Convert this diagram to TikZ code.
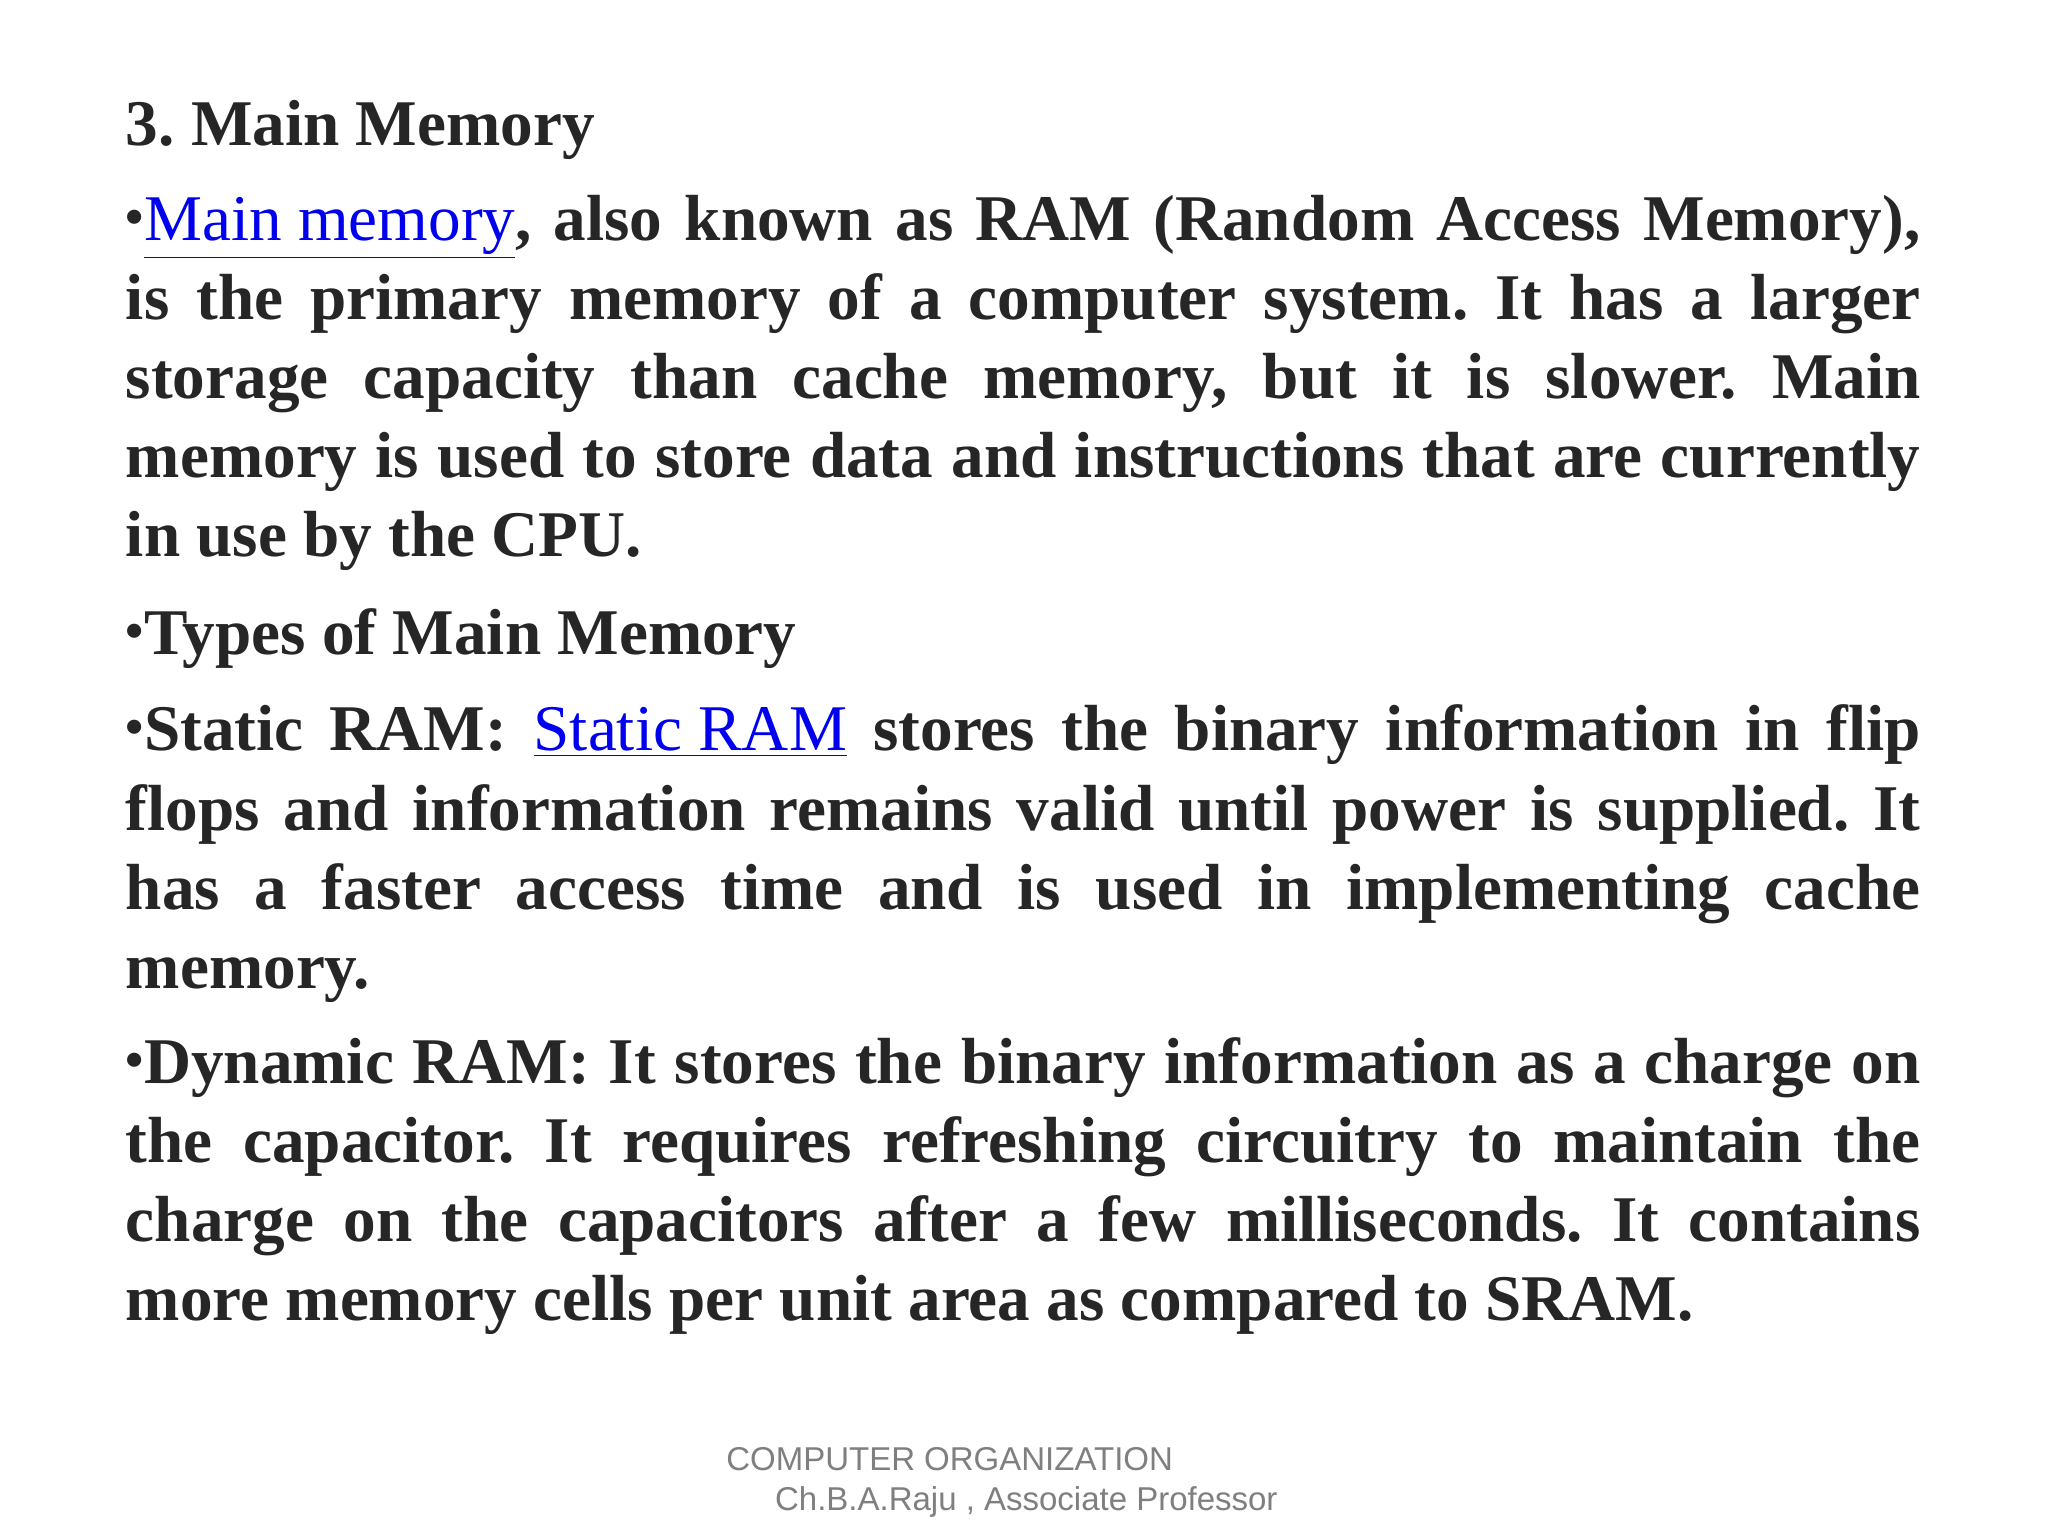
\documentclass[tikz,border=0pt]{standalone}
\usepackage{fontspec}
\setmainfont{Liberation Serif}
\newfontfamily\footfont{Liberation Sans}
\definecolor{txt}{HTML}{262626}
\definecolor{lnk}{HTML}{0000EE}
\definecolor{foot}{HTML}{7F7F7F}
\newcommand{\lk}[1]{{\mdseries\color{lnk}\underline{#1}}}
\newcommand{\bl}{\raisebox{0.2ex}{\scalebox{0.8}{•}}}
\frenchspacing
\begin{document}
\begin{tikzpicture}[x=1pt,y=1pt,
  ln/.style={anchor=base west,inner sep=0,text=txt,font=\fontsize{24.7}{30}\selectfont\bfseries},
  ft/.style={anchor=base west,inner sep=0,text=foot,font=\footfont\fontsize{12.5}{15}\selectfont}]
\fill[white] (0,0) rectangle (776,-582);
\useasboundingbox (0,0) rectangle (776,-582);
\def\W{680pt}
\node[ln] (t) at (47.5,-55) {3. Main Memory};
\node[ln] (a1) at (47.5,-91) {\makebox[\W][s]{\bl\lk{Main memory}, also known as RAM (Random Access Memory),}};
\node[ln] (a2) at (47.5,-121) {\makebox[\W][s]{is the primary memory of a computer system. It has a larger}};
\node[ln] (a3) at (47.5,-151) {\makebox[\W][s]{storage capacity than cache memory, but it is slower. Main}};
\node[ln] (a4) at (47.5,-181) {\makebox[\W][s]{memory is used to store data and instructions that are currently}};
\node[ln] (a5) at (47.5,-211) {in use by the CPU.};
\node[ln] (b1) at (47.5,-248) {\bl Types of Main Memory};
\node[ln] (c1) at (47.5,-284.5) {\makebox[\W][s]{\bl Static RAM: \lk{Static RAM} stores the binary information in flip}};
\node[ln] (c2) at (47.5,-314.5) {\makebox[\W][s]{flops and information remains valid until power is supplied. It}};
\node[ln] (c3) at (47.5,-344.5) {\makebox[\W][s]{has a faster access time and is used in implementing cache}};
\node[ln] (c4) at (47.5,-374.5) {memory.};
\node[ln] (d1) at (47.5,-410.5) {\makebox[\W][s]{\bl Dynamic RAM: It stores the binary information as a charge on}};
\node[ln] (d2) at (47.5,-440.5) {\makebox[\W][s]{the capacitor. It requires refreshing circuitry to maintain the}};
\node[ln] (d3) at (47.5,-470.5) {\makebox[\W][s]{charge on the capacitors after a few milliseconds. It contains}};
\node[ln] (d4) at (47.5,-500.5) {more memory cells per unit area as compared to SRAM.};
\node[ft] (f1) at (275,-557) {COMPUTER ORGANIZATION};
\node[ft] (f2) at (293.5,-572.5) {Ch.B.A.Raju , Associate Professor};
\end{tikzpicture}
\end{document}
